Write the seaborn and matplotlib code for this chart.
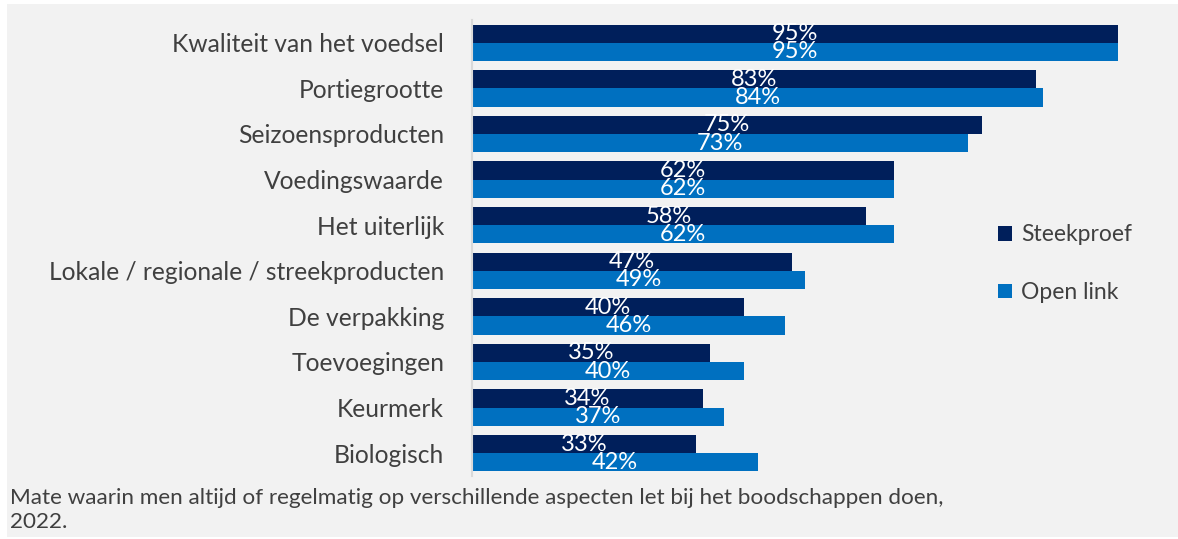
import matplotlib.pyplot as plt
import matplotlib.patches as mpatches
import seaborn as sns
import pandas as pd

categories = ['Kwaliteit van het voedsel', 'Portiegrootte', 'Seizoensproducten',
              'Voedingswaarde', 'Het uiterlijk', 'Lokale / regionale / streekproducten',
              'De verpakking', 'Toevoegingen', 'Keurmerk', 'Biologisch']
steekproef = [95, 83, 75, 62, 58, 47, 40, 35, 34, 33]
open_link = [95, 84, 73, 62, 62, 49, 46, 40, 37, 42]
series = ['Steekproef', 'Open link']
colors = ['#001F5B', '#0070C0']

df = pd.DataFrame({
    'aspect': categories * 2,
    'pct': steekproef + open_link,
    'groep': [series[0]] * len(categories) + [series[1]] * len(categories),
})

plt.rcParams['font.family'] = ['Lato', 'DejaVu Sans']

fig = plt.figure(figsize=(11.78, 5.39), dpi=100, facecolor='white')
# light grey panel behind everything
fig.patches.append(mpatches.Rectangle((7 / 1178, 2 / 539), 1, 1 - 6 / 539,
                                      transform=fig.transFigure, facecolor='#F2F2F2',
                                      edgecolor='none', zorder=-10))
ax = fig.add_axes([472 / 1178, 1 - 476 / 539, 680 / 1178, 456 / 539])
ax.set_facecolor('none')

sns.barplot(data=df, y='aspect', x='pct', hue='groep', hue_order=series,
            palette=colors, orient='h', width=0.8, ax=ax, saturation=1,
            edgecolor='none')

for cont in ax.containers:
    ax.bar_label(cont, labels=[f'{int(v)}%' for v in cont.datavalues],
                 label_type='center', color='white', fontsize=17)

ax.set_xlim(0, 100)
ax.set_ylim(9.5, -0.5)
ax.set_xlabel('')
ax.set_ylabel('')
ax.set_xticks([])
ax.tick_params(axis='y', length=0, pad=20, labelsize=17.7, labelcolor='#404040')
for s in ['top', 'right', 'bottom']:
    ax.spines[s].set_visible(False)
ax.spines['left'].set_color('#D9D9D9')
ax.spines['left'].set_linewidth(1.5)

ax.legend(loc='upper left', bbox_to_anchor=(0.743, 0.597), frameon=False,
          fontsize=16.5, labelspacing=1.6, handlelength=0.6, handleheight=0.6,
          handletextpad=0.4, labelcolor='#404040')

fig.text(10 / 1178, 1 - 510 / 539,
         'Mate waarin men altijd of regelmatig op verschillende aspecten let bij het boodschappen doen,\n2022.',
         fontsize=16.2, color='#404040', va='center', ha='left', linespacing=1.2)

fig.savefig('out.png', dpi=100, facecolor=fig.get_facecolor())
